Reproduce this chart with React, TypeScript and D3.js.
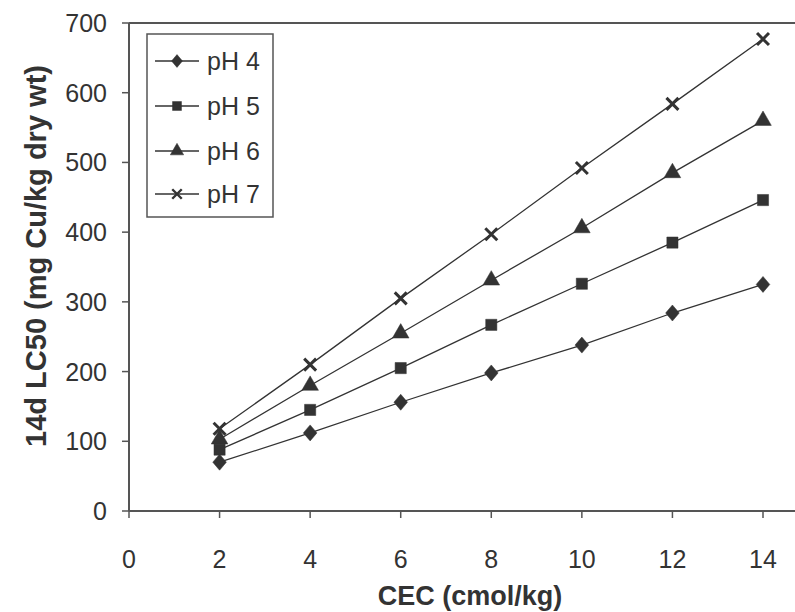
import React from "react";
import * as d3 from "d3";

const cec = [2, 4, 6, 8, 10, 12, 14];
const ph4 = [70, 112, 156, 198, 238, 284, 325];
const ph5 = [88, 145, 205, 267, 326, 385, 446];
const ph6 = [103, 180, 255, 331, 406, 485, 560];
const ph7 = [118, 210, 305, 397, 492, 584, 677];
const seriesNames = ["pH 4", "pH 5", "pH 6", "pH 7"];
const xTicks = [0, 2, 4, 6, 8, 10, 12, 14];
const yTicks = [0, 100, 200, 300, 400, 500, 600, 700];
const xTitle = "CEC (cmol/kg)";
const yTitle = "14d LC50 (mg Cu/kg dry wt)";

const W = 795;
const H = 612;
const FONT = "'Liberation Sans', Arial, sans-serif";
const INK = "#333";
const AXIS = "#555";

const x = d3.scaleLinear().domain([0, 14]).range([129, 763]);
const y = d3.scaleLinear().domain([0, 700]).range([511, 23]);

function markerPath(i: number, s: number): string {
  if (i === 0) {
    const w = 6.8 * s;
    const h = 8 * s;
    const p = d3.path();
    p.moveTo(0, -h);
    p.lineTo(w, 0);
    p.lineTo(0, h);
    p.lineTo(-w, 0);
    p.closePath();
    return p.toString();
  }
  if (i === 1) return d3.symbol().type(d3.symbolSquare).size(125 * s * s)() as string;
  if (i === 2) return d3.symbol().type(d3.symbolTriangle).size(120 * s * s)() as string;
  return d3.symbol().type(d3.symbolX).size(95 * s * s)() as string;
}

function Marker({ i, cx, cy, s = 1 }: { i: number; cx: number; cy: number; s?: number }) {
  const d = markerPath(i, s);
  if (i === 3) {
    return <path d={d} transform={`translate(${cx},${cy})`} fill="none" stroke={INK} strokeWidth={3 * s} />;
  }
  return <path d={d} transform={`translate(${cx},${cy})`} fill={INK} stroke={INK} strokeWidth={0.5} />;
}

export default function App() {
  const all = [ph4, ph5, ph6, ph7];
  const line = d3
    .line<number>()
    .x((_, k) => x(cec[k]))
    .y((v) => y(v));
  const legendY = [61, 106, 151, 194];
  return (
    <svg width={W} height={H} style={{ position: "absolute", left: 0, top: 0, background: "#fff" }}>
      <rect x={0} y={0} width={W} height={H} fill="#fff" />
      <line x1={x(0)} x2={W} y1={y(700)} y2={y(700)} stroke={AXIS} strokeWidth={2} />
      <line x1={x(0)} x2={x(0)} y1={y(700)} y2={y(0)} stroke={AXIS} strokeWidth={2} />
      <line x1={x(0)} x2={W} y1={y(0)} y2={y(0)} stroke={AXIS} strokeWidth={2} />
      {yTicks.map((t) => (
        <g key={"y" + t}>
          <line x1={x(0) - 7} x2={x(0)} y1={y(t)} y2={y(t)} stroke={AXIS} strokeWidth={1.5} />
          <text x={107} y={y(t)} dy="0.36em" textAnchor="end" fontFamily={FONT} fontSize={25} fill={INK}>
            {t}
          </text>
        </g>
      ))}
      {xTicks.map((t) => (
        <g key={"x" + t}>
          <line x1={x(t)} x2={x(t)} y1={y(0)} y2={y(0) + 7} stroke={AXIS} strokeWidth={1.5} />
          <text x={x(t)} y={568} textAnchor="middle" fontFamily={FONT} fontSize={25} fill={INK}>
            {t}
          </text>
        </g>
      ))}
      <text x={470} y={605} textAnchor="middle" fontFamily={FONT} fontSize={27} fontWeight="bold" fill={INK}>
        {xTitle}
      </text>
      <text
        transform={`translate(46,256) rotate(-90)`}
        textAnchor="middle"
        fontFamily={FONT}
        fontSize={29}
        fontWeight="bold"
        fill={INK}
      >
        {yTitle}
      </text>
      {all.map((vals, i) => (
        <g key={"s" + i}>
          <path d={line(vals) as string} fill="none" stroke={INK} strokeWidth={1.3} />
          {vals.map((v, k) => (
            <Marker key={k} i={i} cx={x(cec[k])} cy={y(v)} />
          ))}
        </g>
      ))}
      <rect x={147} y={34} width={126} height={183} fill="#fff" stroke={AXIS} strokeWidth={1.5} />
      {seriesNames.map((name, i) => (
        <g key={"l" + i}>
          <line x1={155} x2={199} y1={legendY[i]} y2={legendY[i]} stroke={INK} strokeWidth={1.3} />
          <Marker i={i} cx={177} cy={legendY[i]} s={0.8} />
          <text x={207} y={legendY[i]} dy="0.36em" fontFamily={FONT} fontSize={25} fill={INK}>
            {name}
          </text>
        </g>
      ))}
    </svg>
  );
}
